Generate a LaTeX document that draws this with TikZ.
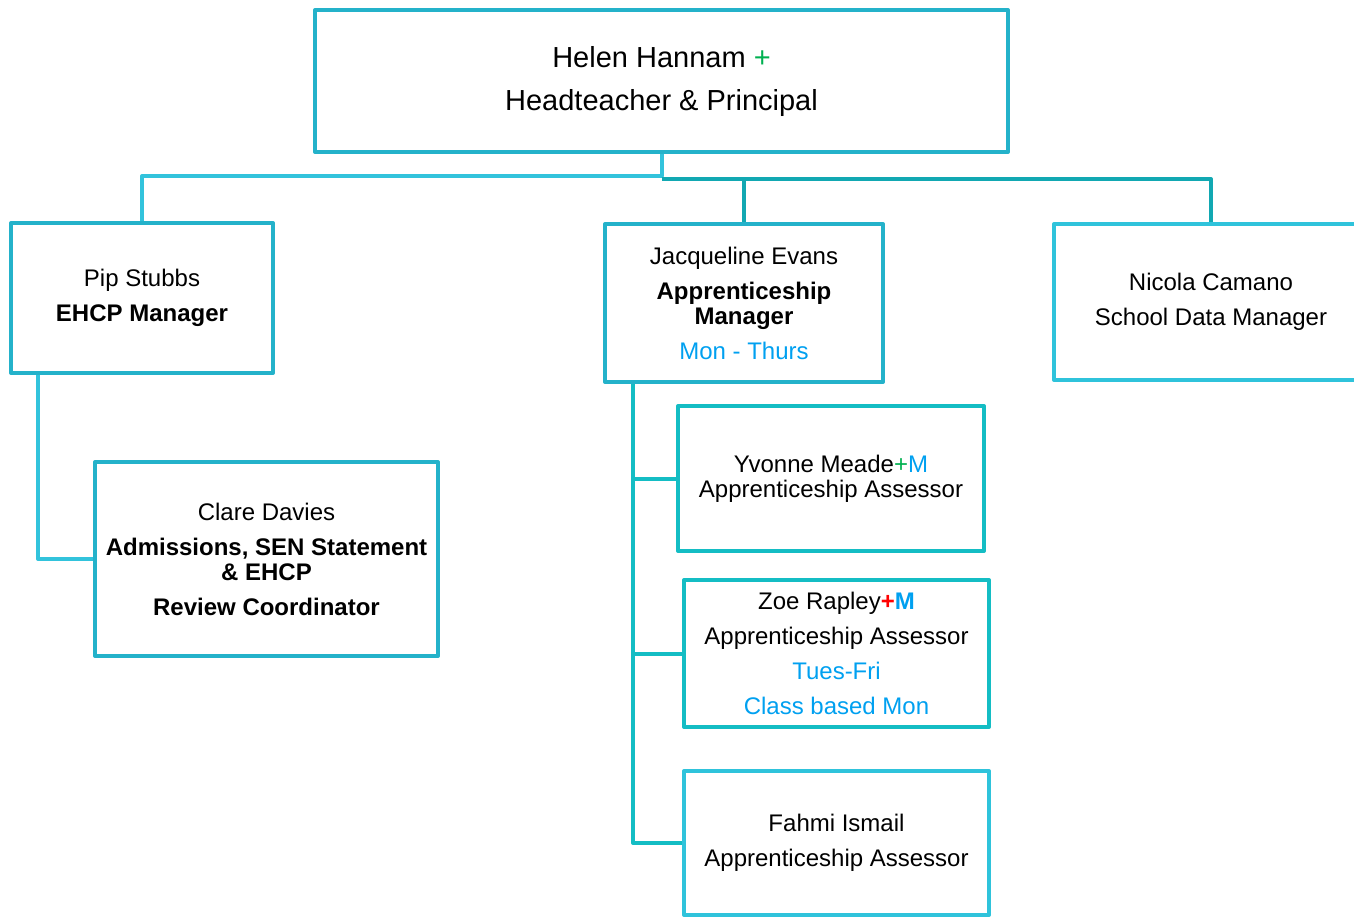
\documentclass[tikz,border=0pt]{standalone}
\usepackage{fontspec}
\setmainfont{Liberation Sans}
\usepackage{tikz}
\usetikzlibrary{positioning}

\definecolor{boxcyan}{RGB}{36,178,202}
\definecolor{boxlight}{RGB}{47,195,219}
\definecolor{boxteal}{RGB}{20,189,196}
\definecolor{linelight}{RGB}{50,195,220}
\definecolor{linedark}{RGB}{18,168,178}
\definecolor{plusgreen}{RGB}{0,176,80}
\definecolor{dayblue}{RGB}{0,160,240}

\begin{document}
\begin{tikzpicture}[x=0.5pt, y=-0.5pt,
		box/.style={draw=boxcyan, line width=2pt, line join=round, align=center, inner sep=0pt,
			font=\fontsize{12}{12.5}\selectfont, execute at begin node={\rule{0pt}{13.5pt}}},
		link/.style={line width=2pt, line join=round}]
				\useasboundingbox (0,0) rectangle (1354,918);
				\begin{scope}
					% top row
					\node[box, minimum width=346.5pt, minimum height=71pt, font=\fontsize{14.5}{21.5}\selectfont] (head) at (661.5,81)
						{Helen Hannam \textcolor{plusgreen}{+}\\Headteacher \& Principal};

					% second row
					\node[box, minimum width=131pt, minimum height=75pt] (pip) at (142,298)
						{Pip Stubbs\\[5pt]\textbf{EHCP Manager}};
					\node[box, minimum width=139pt, minimum height=79pt] (jac) at (744,303)
						{Jacqueline Evans\\[5pt]\textbf{Apprenticeship}\\\textbf{Manager}\\[5pt]\textcolor{dayblue}{Mon - Thurs}};
					\node[box, draw=boxlight, minimum width=157pt, minimum height=78pt] (nicola) at (1211,302)
						{Nicola Camano\\[5pt]School Data Manager};

					% under pip
					\node[box, minimum width=171.5pt, minimum height=97pt] (clare) at (266.5,559)
						{Clare Davies\\[5pt]\textbf{Admissions, SEN Statement}\\\textbf{\& EHCP}\\[5pt]\textbf{Review Coordinator}};

					% under jacqueline
					\node[box, draw=boxteal, minimum width=153pt, minimum height=72.5pt] (yvonne) at (831,478.5)
						{Yvonne Meade\textcolor{plusgreen}{+}\textcolor{dayblue}{M}\\Apprenticeship Assessor};
					\node[box, draw=boxteal, minimum width=152.5pt, minimum height=73.5pt] (zoe) at (836.5,653.5)
						{Zoe Rapley\textcolor{red}{\textbf{+}}\textcolor{dayblue}{\textbf{M}}\\[5pt]Apprenticeship Assessor\\[5pt]\textcolor{dayblue}{Tues-Fri}\\[5pt]\textcolor{dayblue}{Class based Mon}};
					\node[box, draw=boxlight, minimum width=152.5pt, minimum height=72pt] (fahmi) at (836.5,843)
						{Fahmi Ismail\\[5pt]Apprenticeship Assessor};

					% connectors
					\path (head.south) ++(0,22) coordinate (busL);
					\path (head.south) ++(0,25) coordinate (busR);
					\draw[link, linelight] (head.south) -- (busL) -| (pip.north);
					\draw[link, linedark] (busR) -| (nicola.north);
					\draw[link, linedark] (jac.north |- busR) -- (jac.north);

					\coordinate (pspine) at ([xshift=14.5pt]pip.south west);
					\draw[link, linelight] (pspine) |- (clare.west); % pip to clare

					\coordinate (jspine) at ([xshift=15pt]jac.south west);
					\draw[link, boxteal] (jspine) |- (fahmi.west);
					\draw[link, boxteal] (jspine |- yvonne.west) -- (yvonne.west);
					\draw[link, boxteal] (jspine |- zoe.west) -- (zoe.west);
				\end{scope}
			\end{tikzpicture}
\end{document}
